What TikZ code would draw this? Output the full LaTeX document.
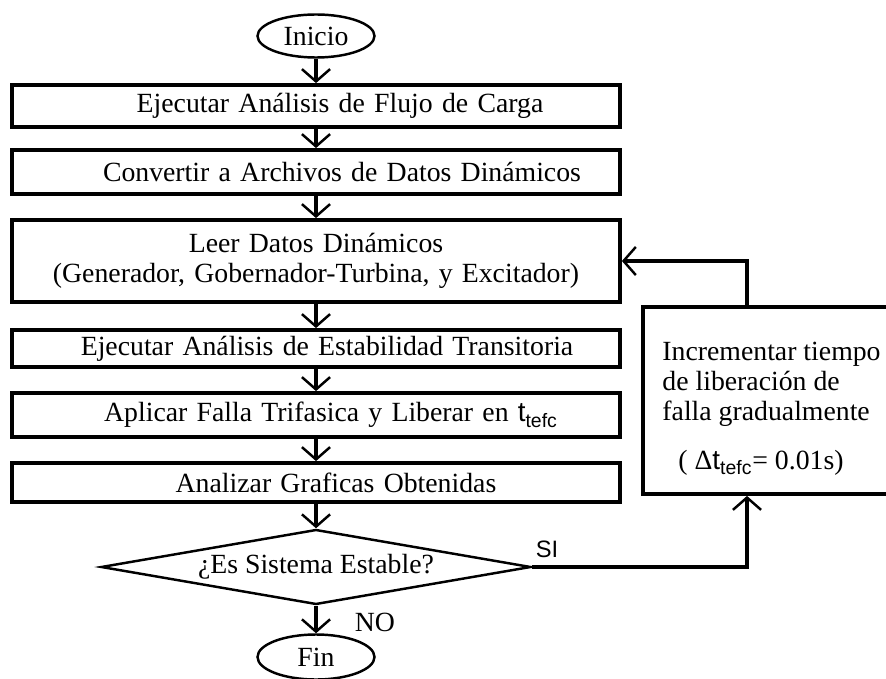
\documentclass[tikz,border=0pt]{standalone}
\usepackage{fontspec}
\setmainfont{Liberation Serif}
\newfontfamily\sansfont{Liberation Sans}
\usetikzlibrary{shapes.geometric,arrows.meta}

\tikzset{
  procbox/.style={draw, line width=2.2pt, minimum width=12.16cm, text width=11.9cm, align=center, inner sep=0pt},
  terminal/.style={draw, ellipse, line width=1.4pt, minimum width=2.34cm, minimum height=0.86cm, inner sep=0pt},
  decision/.style={draw, diamond, aspect=5.7, line width=1.4pt, minimum width=8.6cm, minimum height=1.5cm, inner sep=0pt},
  incbox/.style={draw, line width=2.2pt, minimum width=5.14cm, minimum height=3.74cm, align=left, inner sep=0pt},
  flow/.style={line width=2pt, -{Straight Barb[length=7pt,width=16pt,line width=1.4pt]}}
}

\begin{document}
\begin{tikzpicture}[x=0.02cm, y=-0.02cm, font=\fontsize{15.8pt}{17pt}\selectfont]
        \useasboundingbox (0,0) rectangle (886,679);
        \clip (0,0) rectangle (886,679);

        \node[terminal] (ini) at (316,36) {Inicio};
        \node[procbox, minimum height=0.84cm] (b1) at (316,106) {\hspace*{0.96cm}Ejecutar Análisis de Flujo de Carga};
        \node[procbox, minimum height=0.88cm] (b2) at (316,172) {\hspace*{1.04cm}Convertir a Archivos de Datos Dinámicos};
        \node[procbox, minimum height=1.64cm] (b3) at (316,261) {Leer Datos Dinámicos\\(Generador, Gobernador-Turbina, y Excitador)};
        \node[procbox, minimum height=0.74cm] (b4) at (316,348.5) {\hspace*{0.44cm}Ejecutar Análisis de Estabilidad Transitoria};
        \node[procbox, minimum height=0.88cm] (b5) at (316,415) {\hspace*{0.6cm}Aplicar Falla Trifasica y Liberar en {\sansfont t}\textsubscript{\sansfont tefc}};
        \node[procbox, minimum height=0.78cm] (b6) at (316,482.5) {\hspace*{0.8cm}Analizar Graficas Obtenidas};
        \node[decision] (dec) at (316,567) {¿Es Sistema Estable?};
        \node[terminal, minimum height=0.9cm] (fin) at (316,657) {Fin};

        \node[incbox] (inc) at (771.5,400.5) {\rule{0pt}{20pt}Incrementar tiempo\\de liberación de\\falla gradualmente\\[11pt]\hspace*{0.32cm}( Δ{\sansfont t}\textsubscript{\sansfont tefc}= 0.01s)};

        \coordinate (loopx) at (747,0);

        \draw[flow] (ini) -- (b1);
        \draw[flow] (b1) -- (b2);
        \draw[flow] (b2) -- (b3);
        \draw[flow] (b3) -- (b4);
        \draw[flow] (b4) -- (b5);
        \draw[flow] (b5) -- (b6);
        \draw[flow] (b6) -- (dec);
        \draw[flow] (dec) -- (fin);
        \draw[flow] (dec.east) -| (inc.south -| loopx);
        \draw[flow] (inc.north -| loopx) |- (b3.east);

        \node (no) at (375,622) {NO};
        \node[font=\sansfont\fontsize{13.5pt}{14pt}\selectfont] (si) at (547,549) {SI};
\end{tikzpicture}
\end{document}
